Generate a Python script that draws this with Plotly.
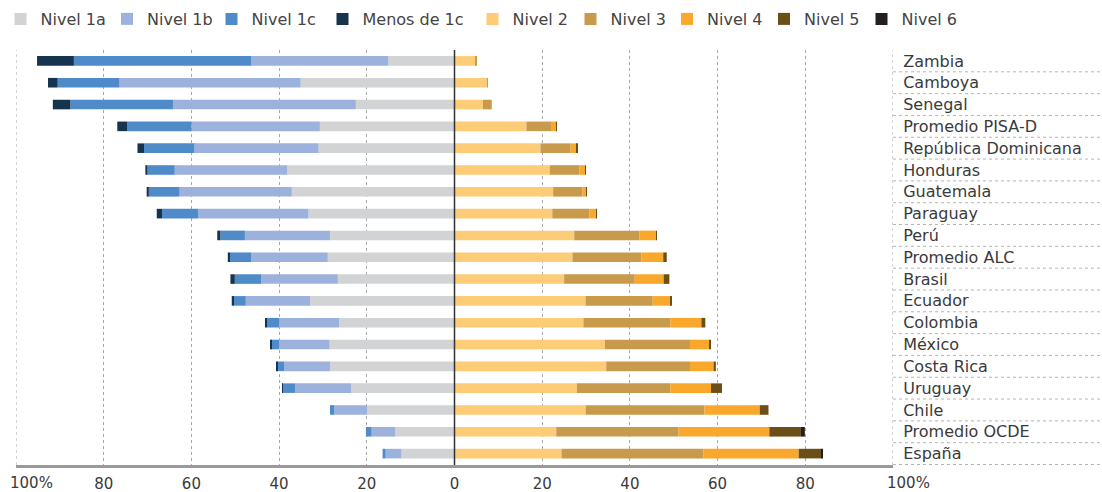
import plotly.graph_objects as go

categories = ["Zambia", "Camboya", "Senegal", "Promedio PISA-D", "República Dominicana",
              "Honduras", "Guatemala", "Paraguay", "Perú", "Promedio ALC", "Brasil",
              "Ecuador", "Colombia", "México", "Costa Rica", "Uruguay", "Chile",
              "Promedio OCDE", "España"]

# Below level 2 (drawn to the left)
nivel_1a = [15.1, 35.1, 22.5, 30.7, 31.0, 38.2, 37.1, 33.3, 28.4, 28.9, 26.6, 32.9, 26.3, 28.5, 28.4, 23.6, 19.9, 13.5, 12.1]
nivel_1b = [31.2, 41.3, 41.7, 29.3, 28.3, 25.6, 25.6, 25.2, 19.4, 17.4, 17.5, 14.7, 13.7, 11.5, 10.4, 12.7, 7.5, 5.4, 3.6]
nivel_1c = [40.5, 14.1, 23.4, 14.6, 11.5, 6.2, 7.0, 8.2, 5.6, 4.9, 6.0, 2.8, 2.8, 1.8, 1.6, 2.9, 1.0, 1.3, 0.7]
menos_1c = [8.4, 2.2, 4.0, 2.3, 1.5, 0.5, 0.5, 1.2, 0.7, 0.5, 1.0, 0.4, 0.2, 0.1, 0.1, 0.1, 0.0, 0.0, 0.0]

# Level 2 and above (drawn to the right)
nivel_2 = [4.7, 7.5, 6.5, 16.4, 19.6, 21.7, 22.5, 22.3, 27.3, 26.9, 25.0, 29.9, 29.4, 34.3, 34.6, 27.9, 29.9, 23.2, 24.4]
nivel_3 = [0.4, 0.1, 2.0, 5.6, 6.9, 6.8, 6.7, 8.5, 14.9, 15.7, 16.1, 15.3, 19.8, 19.4, 19.1, 21.3, 27.1, 27.9, 32.4]
nivel_4 = [0.0, 0.0, 0.0, 1.2, 1.4, 1.3, 0.9, 1.5, 3.8, 5.0, 6.6, 4.1, 7.1, 4.4, 5.4, 9.3, 12.6, 20.7, 21.7]
nivel_5 = [0.0, 0.0, 0.0, 0.1, 0.1, 0.1, 0.1, 0.1, 0.1, 0.8, 1.3, 0.2, 0.9, 0.3, 0.5, 2.5, 2.0, 7.2, 5.2]
nivel_6 = [0.0, 0.0, 0.0, 0.0, 0.0, 0.0, 0.0, 0.0, 0.0, 0.0, 0.0, 0.0, 0.0, 0.0, 0.0, 0.0, 0.0, 0.9, 0.2]

tick_vals = [-100, -80, -60, -40, -20, 0, 20, 40, 60, 80, 100]
tick_text = ["100%", "80", "60", "40", "20", "0", "20", "40", "60", "80", "100%"]

series = [
    ("Nivel 1a", nivel_1a, -1, "#d2d3d5"),
    ("Nivel 1b", nivel_1b, -1, "#9cb1dc"),
    ("Nivel 1c", nivel_1c, -1, "#4f8bc9"),
    ("Menos de 1c", menos_1c, -1, "#17344f"),
    ("Nivel 2", nivel_2, 1, "#fecb76"),
    ("Nivel 3", nivel_3, 1, "#c89a4b"),
    ("Nivel 4", nivel_4, 1, "#faa82c"),
    ("Nivel 5", nivel_5, 1, "#6c4f18"),
    ("Nivel 6", nivel_6, 1, "#231f20"),
]

# left edge (px) of each single-entry legend box
legend_left_px = [0.5, 107, 211.5, 322.5, 472.5, 570.5, 667, 764, 861.5]

FONT = "DejaVu Sans"
TXT = "#3a3a3a"
W, H = 1102, 492
ML, MR, MT, MB = 16, 209, 50, 27
PW = W - ML - MR
PH = H - MT - MB
TICK_SIZE = 15

fig = go.Figure()
legends = {}
for k, (name, vals, sign, color) in enumerate(series):
    lid = "legend" if k == 0 else f"legend{k + 1}"
    fig.add_trace(go.Bar(
        y=categories, x=[sign * v for v in vals], name=name, orientation="h",
        marker=dict(color=color, line=dict(width=0)), legend=lid,
    ))
    legends[lid] = dict(orientation="h", x=(legend_left_px[k] - ML) / PW, xanchor="left",
                        y=1 + (MT - 19) / PH, yanchor="middle",
                        font=dict(family=FONT, size=16, color="#444"),
                        itemwidth=30, bgcolor="rgba(0,0,0,0)", borderwidth=0)

# dashed separators in the label column
for i in range(len(categories)):
    fig.add_shape(type="line", xref="paper", yref="y", x0=1.0, x1=1 + MR / PW,
                  y0=i + 0.5, y1=i + 0.5,
                  line=dict(color="#b5b5b5", width=1, dash="3px,3px"), layer="below")

# outer gridlines at -100 and 100
for xv in (tick_vals[0], tick_vals[-1]):
    fig.add_shape(type="line", xref="x", yref="paper", x0=xv, x1=xv, y0=0, y1=1,
                  line=dict(color="#a8a8a8", width=1, dash="3px,3px"), layer="below")

# solid zero line
fig.add_shape(type="line", xref="x", yref="paper", x0=0, x1=0, y0=0, y1=1,
              line=dict(color="#333333", width=1.5), layer="above")

# end labels ("100%") are set slightly inward like in the source graphic
inner_text = [t if 0 < i < len(tick_text) - 1 else "" for i, t in enumerate(tick_text)]
for xv, txt in ((tick_vals[0], tick_text[0]), (tick_vals[-1], tick_text[-1])):
    fig.add_annotation(x=xv, xref="x", y=0, yref="paper", text=txt, showarrow=False,
                       xanchor="center", yanchor="top", xshift=15, yshift=-7,
                       font=dict(family=FONT, size=TICK_SIZE, color=TXT))

fig.update_layout(
    template="none",
    width=W, height=H,
    margin=dict(l=ML, r=MR, t=MT, b=MB, autoexpand=False),
    barmode="relative", bargap=0.56,
    paper_bgcolor="white", plot_bgcolor="white",
    font=dict(family=FONT, size=16, color=TXT),
    showlegend=True,
    xaxis=dict(range=[-100, 100], tickvals=tick_vals, ticktext=inner_text,
               showgrid=True, gridcolor="#a8a8a8", gridwidth=1, griddash="3px,3px",
               zeroline=False,
               showline=True, linecolor="#9a9a9a", linewidth=3,
               ticks="outside", ticklen=3, tickcolor="rgba(0,0,0,0)",
               tickfont=dict(family=FONT, size=TICK_SIZE, color=TXT), automargin=False,
               fixedrange=True),
    yaxis=dict(categoryorder="array", categoryarray=categories, autorange="reversed",
               side="right", showgrid=False, zeroline=False, showline=False,
               ticks="outside", ticklen=6, tickcolor="rgba(0,0,0,0)",
               tickfont=dict(family=FONT, size=16, color=TXT), automargin=False,
               fixedrange=True),
    **legends,
)

fig.write_html("out.html", config={"displayModeBar": False},
               post_script="document.body.style.margin='0px';document.body.style.overflow='hidden';")
